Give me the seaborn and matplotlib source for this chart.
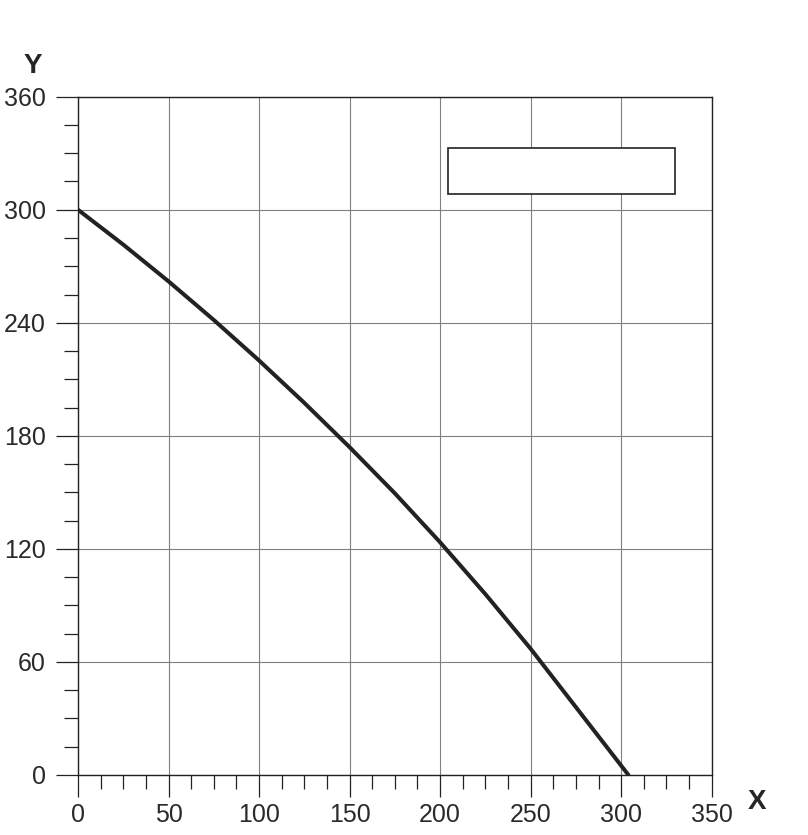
import numpy as np
import pandas as pd
import seaborn as sns
import matplotlib.pyplot as plt
from matplotlib.patches import Rectangle
from matplotlib.ticker import MultipleLocator

# values
x_vals = [0, 25, 50, 75, 100, 125, 150, 175, 200, 225, 250, 275, 304]
y_vals = [300, 281.5, 262, 241.5, 220, 197.5, 174, 149.5, 123.5, 96, 67, 36, 0]

x_ticks = [0, 50, 100, 150, 200, 250, 300, 350]
y_ticks = [0, 60, 120, 180, 240, 300, 360]

df = pd.DataFrame({'x': x_vals, 'y': y_vals})

sns.set_style('ticks')
plt.rcParams['font.family'] = ['Liberation Sans', 'DejaVu Sans']

fig = plt.figure(figsize=(8.08, 8.35), dpi=100)
ax = fig.add_axes([0.0965, 0.0719, 0.7843, 0.8123])

sns.lineplot(data=df, x='x', y='y', color='#222222', linewidth=2.9, ax=ax)

ax.set_xlim(0, 350)
ax.set_ylim(0, 360)
ax.set_xticks(x_ticks)
ax.set_yticks(y_ticks)
ax.xaxis.set_minor_locator(MultipleLocator(12.5))
ax.yaxis.set_minor_locator(MultipleLocator(15))
ax.grid(True, which='major', color='#808080', linewidth=0.8)
ax.set_axisbelow(True)

ax.tick_params(which='major', direction='out', length=16, width=0.9,
               color='#222222', labelsize=18, labelcolor='#2a2a2a', pad=4,
               bottom=True, left=True, top=False, right=False)
ax.tick_params(which='minor', direction='out', length=10, width=0.9, color='#222222',
               bottom=True, left=True, top=False, right=False)
ax.tick_params(axis='y', which='major', pad=7)

for s in ax.spines.values():
    s.set_visible(True)
    s.set_color('#222222')
    s.set_linewidth(1.0)

ax.set_xlabel('')
ax.set_ylabel('')
fig.text(0.041, 0.921, 'Y', fontsize=20, weight='bold', ha='center', va='center')
fig.text(0.937, 0.040, 'X', fontsize=20, weight='bold', ha='center', va='center')

# empty legend box
ax.add_patch(Rectangle((0.584, 0.856), 0.358, 0.069, transform=ax.transAxes,
                       facecolor='white', edgecolor='#222222', linewidth=1.2, zorder=5))

fig.savefig('out.png', dpi=100)
